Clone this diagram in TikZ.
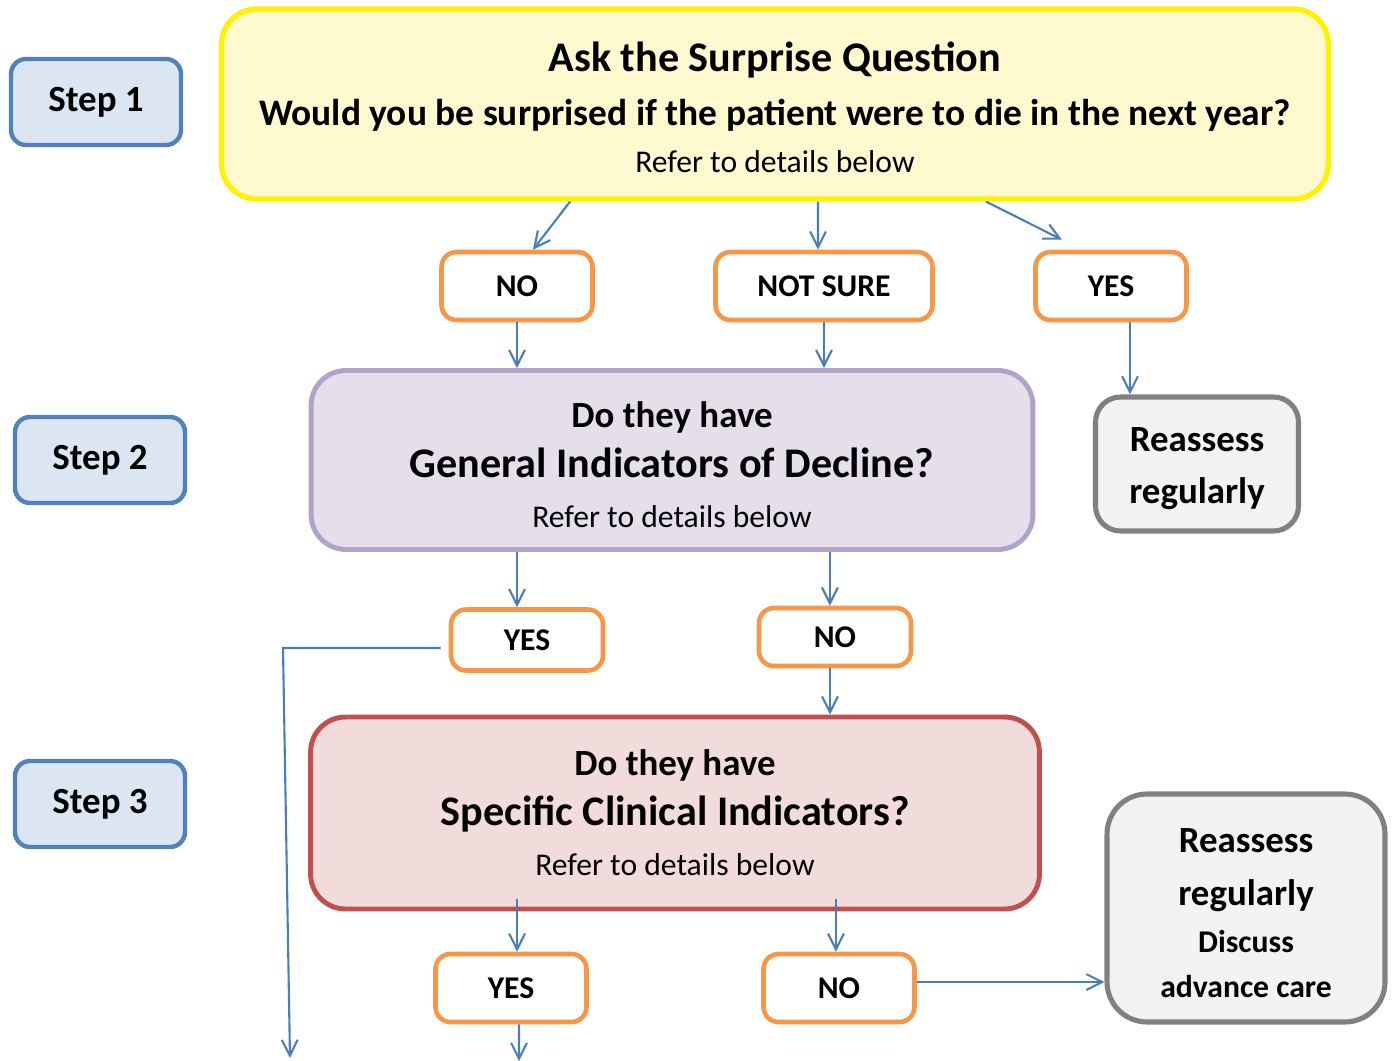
\documentclass[tikz,border=0pt]{standalone}
\usepackage{fontspec}
\setmainfont{Carlito}
\usetikzlibrary{arrows.meta,calc}

\definecolor{stepline}{HTML}{4F81BD}
\definecolor{stepfill}{HTML}{DCE6F2}
\definecolor{qline}{RGB}{255,242,0}
\definecolor{qfill}{HTML}{FEF9CF}
\definecolor{ansline}{HTML}{F79646}
\definecolor{gidline}{HTML}{B2A2C7}
\definecolor{gidfill}{HTML}{E5DFEC}
\definecolor{sciline}{HTML}{C0504D}
\definecolor{scifill}{HTML}{F2DCDB}
\definecolor{againline}{HTML}{808080}
\definecolor{againfill}{HTML}{F2F2F2}
\definecolor{arrblue}{HTML}{4A7EBB}

\tikzset{
  stepbox/.style={draw=stepline, fill=stepfill, line width=2.5pt, rounded corners=0.3cm,
    minimum width=3.4cm, minimum height=1.72cm, font=\fontsize{21}{24}\selectfont\bfseries},
  answer/.style={draw=ansline, fill=white, line width=2.6pt, rounded corners=0.3cm,
    minimum width=3.02cm, minimum height=1.36cm, font=\fontsize{18}{22}\selectfont\bfseries},
  bigbox/.style={line width=2.8pt, rounded corners=0.7cm, align=center, inner sep=0pt},
  again/.style={draw=againline, fill=againfill, line width=2.9pt, rounded corners=0.5cm,
    align=center, inner sep=0pt},
  arr/.style={draw=arrblue, line width=1.2pt, -{Straight Barb[length=9pt,width=9pt]}},
}

\begin{document}
\begin{tikzpicture}[x=0.02cm, y=-0.02cm]
\useasboundingbox (0,0) rectangle (1396,1061);

% steps
\node[stepbox] (step1) at (96,102) {Step 1};
\node[stepbox] (step2) at (100,460) {Step 2};
\node[stepbox] (step3) at (100,804) {Step 3};

% step 1: surprise question
\node[bigbox, draw=qline, fill=qfill, line width=3pt, minimum width=22.14cm, minimum height=3.8cm,
  font=\fontsize{21.3}{28}\selectfont] (q) at (775,104)
  {\rule{0pt}{20.6pt}{\fontsize{24}{28}\selectfont\bfseries Ask the Surprise Question}\\[3pt]
   {\bfseries Would you be surprised if the patient were to die in the next year?}\\[-1pt]
   {\fontsize{18}{28}\selectfont Refer to details below}};

\node[answer] (no1) at (517,286) {NO};
\node[answer, minimum width=4.34cm] (notsure) at (824,286) {NOT SURE};
\node[answer] (yes1) at (1111,286) {YES};

% step 2: general indicators
\node[bigbox, draw=gidline, fill=gidfill, minimum width=14.44cm, minimum height=3.58cm,
  font=\fontsize{21}{28.5}\selectfont] (gid) at (672,460)
  {\rule{0pt}{20.2pt}{\bfseries Do they have}\\
   {\fontsize{24}{28.5}\selectfont\bfseries General Indicators of Decline?}\\
   {\fontsize{18}{28.5}\selectfont Refer to details below}};

\node[again, minimum width=4.06cm, minimum height=2.68cm,
  font=\fontsize{21}{29.5}\selectfont\bfseries] (again1) at (1197,464)
  {\rule{0pt}{19.2pt}Reassess\\regularly};

\node[answer, minimum width=3.04cm, minimum height=1.22cm] (yes2) at (527,640) {YES};
\node[answer, minimum width=3.04cm, minimum height=1.16cm] (no2) at (835,637) {NO};

% step 3: specific clinical indicators
\node[bigbox, draw=sciline, fill=scifill, minimum width=14.58cm, minimum height=3.84cm,
  font=\fontsize{21}{28.5}\selectfont] (sci) at (675,813)
  {{\bfseries Do they have}\\
   {\fontsize{24}{28.5}\selectfont\bfseries Specific Clinical Indicators?}\\
   {\fontsize{18}{28.5}\selectfont Refer to details below}};

\node[answer] (yes3) at (511,988) {YES};
\node[answer] (no3) at (839,988) {NO};

\node[again, minimum width=5.56cm, minimum height=4.56cm, rounded corners=0.8cm,
  font=\fontsize{21}{30}\selectfont\bfseries] (again2) at (1246,908)
  {\rule{0pt}{19.5pt}Reassess\\regularly\\[-3pt]{\fontsize{18}{26}\selectfont Discuss}\\[-4.5pt]
   {\fontsize{18}{26}\selectfont advance care}};

% connectors
\draw[arr] ([xshift=-4.1cm]q.south) -- ([xshift=0.32cm]no1.north);
\draw[arr] ([xshift=0.86cm]q.south) -- ([xshift=-0.12cm]notsure.north);
\draw[arr] ([xshift=4.22cm]q.south) -- ([xshift=-0.98cm,yshift=0.2cm]yes1.north);

\draw[arr] (no1.south) -- (no1.south |- gid.north);
\draw[arr] (notsure.south) -- (notsure.south |- gid.north);
\draw[arr] ([xshift=0.38cm]yes1.south) coordinate (y1s) -- (y1s |- again1.north);

\draw[arr] ([xshift=-3.1cm]gid.south) coordinate (g1) -- (g1 |- yes2.north);
\draw[arr] ([xshift=3.16cm]gid.south) coordinate (g2) -- (g2 |- no2.north);
\draw[arr] ([xshift=-0.1cm]no2.south) coordinate (n2) -- (n2 |- sci.north);

\coordinate (bend) at (283,648);
\coordinate (out1) at (290,1058);
\draw[arr] ([xshift=-0.16cm,yshift=-0.16cm]yes2.west) -- (bend) -- (out1);

\draw[arr] ([xshift=-3.16cm,yshift=0.24cm]sci.south) coordinate (s1) -- (s1 |- yes3.north);
\draw[arr] ([xshift=3.22cm,yshift=0.24cm]sci.south) coordinate (s2) -- (s2 |- no3.north);

\coordinate (out2) at (519,1061);
\draw[arr] ([xshift=0.16cm]yes3.south) -- (out2);
\draw[arr] ([yshift=0.12cm]no3.east) coordinate (n3) -- (n3 -| again2.west);
\end{tikzpicture}
\end{document}
